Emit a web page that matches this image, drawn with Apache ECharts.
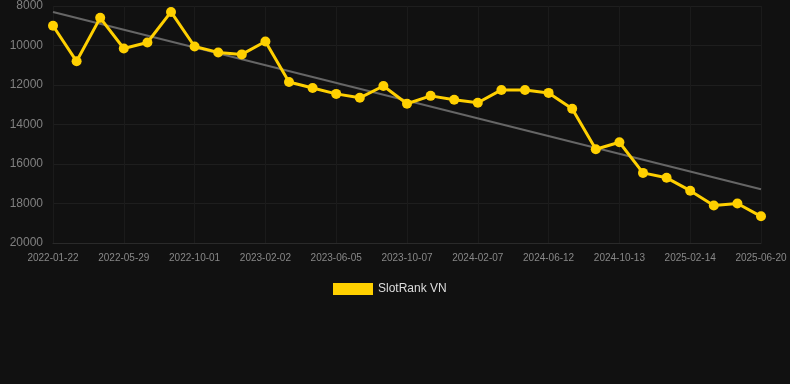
<!DOCTYPE html>
<html><head><meta charset="utf-8">
<script src="https://cdn.jsdelivr.net/npm/echarts@6/dist/echarts.min.js"></script>
<style>html,body{margin:0;padding:0;background:#111111;}#c{width:790px;height:384px;}</style>
</head><body><div id="c"></div>
<script>
const dates = ['2022-01-22','2022-03-05','2022-04-17','2022-05-29','2022-07-10','2022-08-21','2022-10-01','2022-11-12','2022-12-23','2023-02-02','2023-03-16','2023-04-26','2023-06-05','2023-07-17','2023-08-27','2023-10-07','2023-11-18','2023-12-28','2024-02-07','2024-03-20','2024-05-01','2024-06-12','2024-07-24','2024-09-02','2024-10-13','2024-11-24','2025-01-04','2025-02-14','2025-03-28','2025-05-09','2025-06-20'];
const ranks = [9000,10800,8600,10150,9850,8300,10050,10350,10450,9800,11850,12150,12450,12650,12050,12950,12550,12750,12900,12250,12250,12400,13200,15250,14900,16450,16700,17350,18100,18000,18650];
const trendStart = 8300;
const trendEnd = 17280;
const yTicks = [8000,10000,12000,14000,16000,18000,20000];
const seriesName = 'SlotRank VN';

const trend = dates.map((d,i)=> i===0 ? trendStart : (i===dates.length-1 ? trendEnd : null));

const chart = echarts.init(document.getElementById('c'));
chart.setOption({
  backgroundColor:'#111111',
  animation:false,
  grid:{left:53,right:29,top:6,bottom:141,containLabel:false},
  legend:{
    data:[{name:seriesName,icon:'rect'}],
    top:278,left:328,itemWidth:40,itemHeight:12,itemGap:6,
    textStyle:{color:'#dddddd',fontSize:12,fontFamily:'Arial, Liberation Sans, sans-serif'}
  },
  xAxis:{
    type:'category',data:dates,boundaryGap:false,
    axisLine:{lineStyle:{color:'#2a2a2a'}},
    axisTick:{show:false},
    axisLabel:{color:'#888888',fontSize:10,interval:2,margin:10,fontFamily:'Arial, Liberation Sans, sans-serif'},
    splitLine:{show:true,interval:2,lineStyle:{color:'#1b1b1b',width:1}}
  },
  yAxis:{
    type:'value',inverse:true,min:yTicks[0],max:yTicks[yTicks.length-1],interval:2000,
    axisLine:{show:false},axisTick:{show:false},
    axisLabel:{color:'#808080',fontSize:12,margin:10,formatter:v=>String(v),fontFamily:'Arial, Liberation Sans, sans-serif'},
    splitLine:{lineStyle:{color:'#1e1e1e',width:1}}
  },
  series:[
    {name:seriesName,type:'line',data:ranks,symbol:'circle',symbolSize:10,
     lineStyle:{color:'#FFD000',width:3},itemStyle:{color:'#FFD000'},z:3},
    {name:'trend',type:'line',data:trend,connectNulls:true,symbol:'none',
     lineStyle:{color:'#666666',width:2},itemStyle:{color:'#666666'},z:2,silent:true}
  ]
});
</script></body></html>
